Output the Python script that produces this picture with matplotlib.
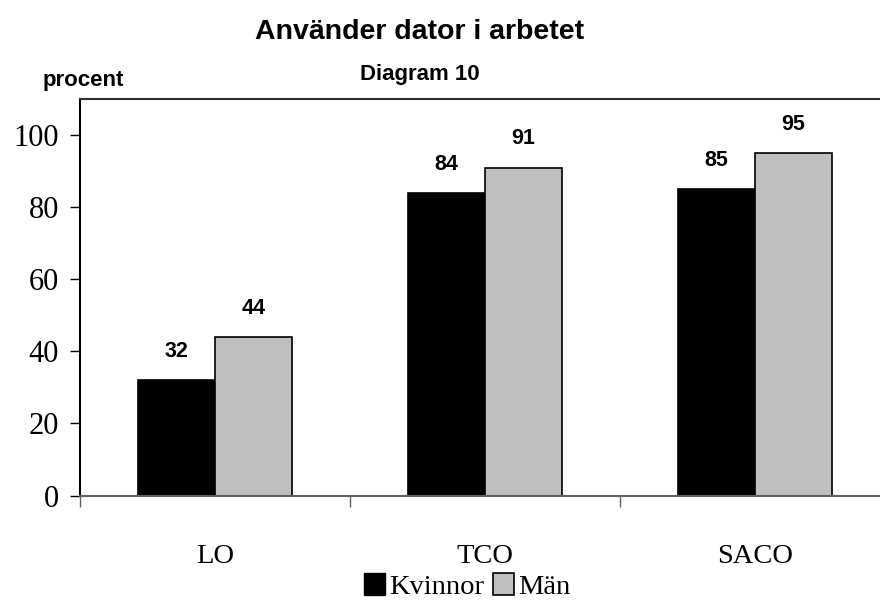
import matplotlib
matplotlib.use('Agg')
import matplotlib.pyplot as plt
from matplotlib import font_manager
from matplotlib.patches import Patch
import numpy as np

# data
categories = ['LO', 'TCO', 'SACO']
kvinnor = [32, 84, 85]
man = [44, 91, 95]
series_names = ['Kvinnor', 'Män']
yticks = [0, 20, 40, 60, 80, 100]

names = {f.name for f in font_manager.fontManager.ttflist}
has_narrow = 'Liberation Sans Narrow' in names
narrow = 'Liberation Sans Narrow' if has_narrow else 'Liberation Sans'
title_size = 23 if has_narrow else 20.5
serif = 'Liberation Serif'

fig = plt.figure(figsize=(8.8, 6.08), dpi=100)
ax = fig.add_axes([80 / 880, 1 - 495.6 / 608, 810 / 880, (495.6 - 99) / 608])

x = np.arange(len(categories))
w = 0.285
b1 = ax.bar(x - w / 2, kvinnor, w, color='black', edgecolor='black', linewidth=1.2)
b2 = ax.bar(x + w / 2, man, w, color='#c0c0c0', edgecolor='black', linewidth=1.2)

for bars, vals in [(b1, kvinnor), (b2, man)]:
    for r, v in zip(bars, vals):
        ax.annotate(str(v), (r.get_x() + r.get_width() / 2, v), xytext=(0, 13),
                    textcoords='offset points', ha='center', va='bottom',
                    fontsize=15.5, fontweight='bold', family=narrow)

ax.set_xlim(-0.5, 2.5)
ax.set_ylim(0, 110)
ax.set_yticks(yticks)
ax.set_yticklabels([str(t) for t in yticks], family=serif, fontsize=22)
ax.tick_params(axis='y', direction='out', length=7, width=1, pad=8)

ax.set_xticks(x)
ax.set_xticklabels(categories, family=serif, fontsize=20.5)
ax.tick_params(axis='x', which='major', length=0, pad=35)
ax.set_xticks([-0.5, 0.5, 1.5, 2.5], minor=True)
ax.tick_params(axis='x', which='minor', direction='out', length=8, width=1, color='#606060')

ax.spines['right'].set_visible(False)
ax.spines['left'].set_linewidth(1.5)
ax.spines['top'].set_color('#303030')
ax.spines['top'].set_linewidth(1.5)
ax.spines['bottom'].set_color('#606060')
ax.spines['bottom'].set_linewidth(1.5)

fig.text(0.477, 0.947, 'Använder dator i arbetet', ha='center', va='center',
         fontsize=title_size, fontweight='bold', family=narrow)
fig.text(0.477, 0.877, 'Diagram 10', ha='center', va='center',
         fontsize=16, fontweight='bold', family=narrow)
fig.text(0.048, 0.868, 'procent', ha='left', va='center',
         fontsize=16, fontweight='bold', family=narrow)

handles = [Patch(facecolor='black', edgecolor='black', linewidth=1),
           Patch(facecolor='#c0c0c0', edgecolor='black', linewidth=1.2)]
fig.legend(handles, series_names, loc='center', bbox_to_anchor=(0.531, 0.036), ncol=2,
           frameon=False, handlelength=0.75, handleheight=0.85, handletextpad=0.15,
           columnspacing=0.3, prop={'family': serif, 'size': 20.5})

fig.savefig('out.png', dpi=100)
